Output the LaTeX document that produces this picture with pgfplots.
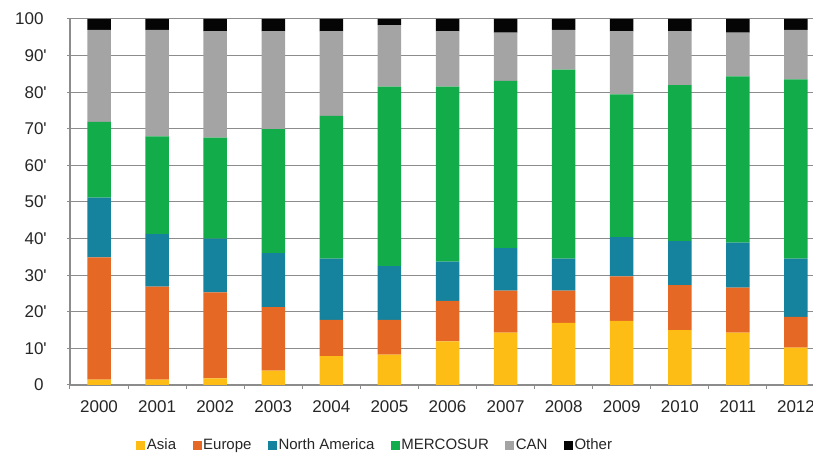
\documentclass[border=0pt]{standalone}
\usepackage{pgfplots}
\usepackage{pgfplotstable}
\pgfplotsset{compat=1.18}
\usepackage{fontspec}
\setmainfont{Liberation Sans}
\definecolor{cAsia}{RGB}{253,189,20}
\definecolor{cEur}{RGB}{229,104,37}
\definecolor{cNA}{RGB}{21,130,158}
\definecolor{cMer}{RGB}{18,173,74}
\definecolor{cCan}{RGB}{163,164,163}
\definecolor{cOth}{RGB}{5,5,5}
\definecolor{txt}{RGB}{38,38,38}
\definecolor{gridc}{RGB}{140,140,140}
\pgfplotsset{sq/.style={legend image code/.code={\fill[##1] (0pt,-4.5pt) rectangle (9pt,4.5pt);}}}
\pgfplotstableread{
x Asia Europe NA Mer Can Other
0 1.5 33.4 16.3 20.7 25.1 3.0
1 1.5 25.4 14.3 26.7 29.1 3.0
2 1.8 23.5 14.7 27.6 29.0 3.4
3 3.9 17.4 14.7 33.9 26.7 3.4
4 7.9 9.9 16.7 39.0 23.1 3.4
5 8.3 9.5 14.7 49.0 16.8 1.7
6 11.9 11.1 10.7 47.8 15.1 3.4
7 14.3 11.5 11.6 45.7 13.2 3.7
8 17.0 8.8 8.7 51.7 10.8 3.0
9 17.5 12.2 10.7 39.0 17.2 3.4
10 15.0 12.3 12.0 42.6 14.7 3.4
11 14.3 12.3 12.3 45.4 12.0 3.7
12 10.2 8.4 15.9 49.0 13.5 3.0
}\data
\begin{document}
\begin{tikzpicture}[x=1pt,y=1pt]
\useasboundingbox (0,0) rectangle (813,454);
\begin{axis}[
  at={(70pt,69pt)}, anchor=south west,
  scale only axis, width=755pt, height=366pt,
  ybar stacked, bar width=23.5pt,
  xmin=-0.5, xmax=12.5, ymin=0, ymax=100,
  xtick={0,...,12},
  xticklabels={2000,2001,2002,2003,2004,2005,2006,2007,2008,2009,2010,2011,2012},
  minor xtick={-0.5,0.5,...,12.5},
  ytick={0,10,...,100},
  yticklabels={0,10\rlap{\textquotesingle},20\rlap{\textquotesingle},30\rlap{\textquotesingle},40\rlap{\textquotesingle},50\rlap{\textquotesingle},60\rlap{\textquotesingle},70\rlap{\textquotesingle},80\rlap{\textquotesingle},90\rlap{\textquotesingle},100},
  axis lines=left,
  axis line style={-, draw=gridc, line width=1.5pt},
  ymajorgrids, grid style={draw=gridc, line width=1pt},
  tick align=outside,
  major x tick style={draw=none},
  minor x tick style={draw=gridc, line width=1pt},
  minor tick length=4pt,
  major tick length=3pt,
  y tick style={draw=gridc, line width=1pt},
  ticklabel style={font=\fontsize{17}{20}\selectfont, text=txt},
  xticklabel style={yshift=-9pt},
  yticklabel style={xshift=-20pt},
  legend columns=-1,
  legend style={draw=none, fill=none, at={(axis description cs:0.404,-0.164)}, anchor=center,
    font=\fontsize{15}{18}\selectfont, text=txt,
    /tikz/every even column/.append style={column sep=15pt},
    nodes={inner sep=1.5pt}},
  legend cell align=left,
]
\addplot+[fill=cAsia, draw=none, sq] table[x=x,y=Asia]{\data};
\addplot+[fill=cEur, draw=none, sq] table[x=x,y=Europe]{\data};
\addplot+[fill=cNA, draw=none, sq] table[x=x,y=NA]{\data};
\addplot+[fill=cMer, draw=none, sq] table[x=x,y=Mer]{\data};
\addplot+[fill=cCan, draw=none, sq] table[x=x,y=Can]{\data};
\addplot+[fill=cOth, draw=none, sq] table[x=x,y=Other]{\data};
\legend{Asia,Europe,North America,MERCOSUR,CAN,Other}
\end{axis}
\end{tikzpicture}
\end{document}
